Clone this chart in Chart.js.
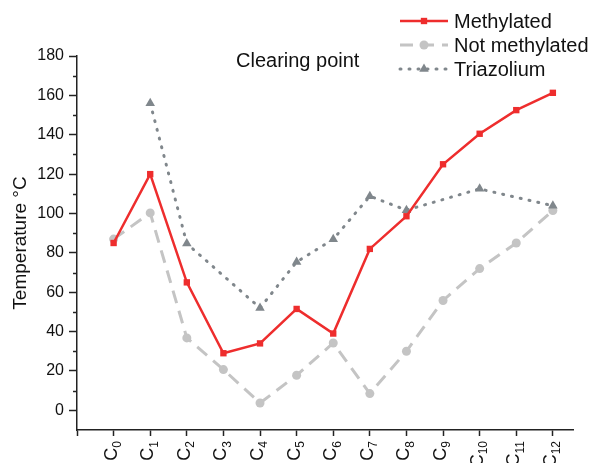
<!DOCTYPE html>
<html>
<head>
<meta charset="utf-8">
<script src="https://cdn.jsdelivr.net/npm/chart.js@4.4.1/dist/chart.umd.min.js"></script>
<style>
  html, body { margin: 0; padding: 0; background: #fff; overflow: hidden; }
  #wrap { position: relative; width: 594px; height: 463px; }
</style>
</head>
<body>
<div id="wrap"><canvas id="clearingChart"></canvas></div>
<script>
// Clearing point temperatures per chain length (C + subscript number)
const categories = ['0', '1', '2', '3', '4', '5', '6', '7', '8', '9', '10', '11', '12'];
const methylated = [85, 120, 65, 29, 34, 51.5, 39, 82, 98.6, 125, 140.5, 152.5, 161.3];
const notMethylated = [87, 100.3, 36.8, 20.7, 3.7, 17.8, 34.2, 8.5, 30, 55.8, 72, 85, 101.5];
const triazolium = [null, 156, 84.7, null, 52, 75.4, 86.9, 108.8, 101.7, null, 112.5, null, 103.9];
const yTicks = [0, 20, 40, 60, 80, 100, 120, 140, 160, 180];
const yMinorTicks = [10, 30, 50, 70, 90, 110, 130, 150, 170];
const xTicks = [-1, 0, 1, 2, 3, 4, 5, 6, 7, 8, 9, 10, 11, 12];

const FONT = '"Liberation Sans", Arial, sans-serif';
const RED = '#ee2d2d';
const LIGHT = '#c4c4c4';
const DARK = '#80878c';

function toPoints(values) {
    return values.map((v, i) => ({ x: i, y: v }));
}

// minor ticks, subscripted x labels, legend and the inner label
const extrasPlugin = {
    id: 'extras',
    afterDraw(chart) {
        const ctx = chart.ctx;
        const x = chart.scales.x;
        const y = chart.scales.y;
        ctx.save();
        ctx.strokeStyle = '#222';
        ctx.lineWidth = 1.5;
        yMinorTicks.forEach(v => {
            const py = Math.round(y.getPixelForValue(v)) + 0.5;
            ctx.beginPath();
            ctx.moveTo(y.right - 4, py);
            ctx.lineTo(y.right, py);
            ctx.stroke();
        });

        // x labels: "C" with a subscript, rotated to read upwards
        ctx.fillStyle = '#111';
        ctx.textBaseline = 'middle';
        categories.forEach((sub, i) => {
            const px = x.getPixelForValue(i);
            ctx.save();
            ctx.translate(px, x.top + 11);
            ctx.rotate(-Math.PI / 2);
            ctx.font = '12px ' + FONT;
            const wSub = ctx.measureText(sub).width;
            ctx.textAlign = 'right';
            ctx.fillText(sub, 0, 4);
            ctx.font = '18px ' + FONT;
            ctx.fillText('C', -wSub, -2);
            ctx.restore();
        });

        ctx.font = '20px ' + FONT;
        ctx.textAlign = 'left';
        ctx.fillText('Clearing point', 236, 61);

        chart.data.datasets.forEach((ds, i) => {
            const rowY = 21 + i * 24;
            ctx.save();
            ctx.strokeStyle = ds.borderColor;
            ctx.lineWidth = ds.borderWidth;
            ctx.lineCap = ds.borderCapStyle || 'butt';
            ctx.setLineDash(ds.borderDash || []);
            ctx.beginPath();
            ctx.moveTo(400, rowY);
            ctx.lineTo(448, rowY);
            ctx.stroke();
            ctx.setLineDash([]);
            ctx.fillStyle = ds.pointBackgroundColor;
            ctx.strokeStyle = ds.pointBackgroundColor;
            Chart.helpers.drawPoint(ctx, {
                pointStyle: ds.pointStyle,
                radius: ds.pointRadius,
                rotation: 0,
                borderWidth: 0
            }, 424, rowY);
            ctx.restore();
            ctx.fillStyle = '#111';
            ctx.fillText(ds.label, 454, rowY + 1);
        });
        ctx.restore();
    }
};

new Chart(document.getElementById('clearingChart'), {
    type: 'line',
    data: {
        datasets: [
            {
                label: 'Methylated',
                data: toPoints(methylated),
                borderColor: RED,
                borderWidth: 2.5,
                pointStyle: 'rect',
                pointRadius: 4.5,
                pointBackgroundColor: RED,
                pointBorderWidth: 0,
                order: 1
            },
            {
                label: 'Not methylated',
                data: toPoints(notMethylated),
                borderColor: LIGHT,
                borderWidth: 3,
                borderDash: [13, 8],
                pointStyle: 'circle',
                pointRadius: 4.5,
                pointBackgroundColor: LIGHT,
                pointBorderWidth: 0,
                order: 3
            },
            {
                label: 'Triazolium',
                data: toPoints(triazolium),
                borderColor: DARK,
                borderWidth: 3,
                borderDash: [1, 8],
                borderCapStyle: 'round',
                spanGaps: true,
                pointStyle: 'triangle',
                pointRadius: 5.5,
                pointBackgroundColor: DARK,
                pointBorderWidth: 0,
                order: 2
            }
        ]
    },
    options: {
        responsive: true,
        maintainAspectRatio: false,
        animation: false,
        layout: { padding: { left: 0, top: 56, right: 21, bottom: 0 } },
        plugins: {
            legend: { display: false },
            tooltip: { enabled: false }
        },
        scales: {
            x: {
                type: 'linear',
                min: -1,
                max: 12.55,
                afterBuildTicks(scale) {
                    scale.ticks = xTicks.map(v => ({ value: v }));
                },
                afterFit(scale) { scale.height = 33; },
                grid: { drawOnChartArea: false, tickLength: 6, tickColor: '#222', tickWidth: 1.5 },
                border: { color: '#222', width: 1.5 },
                ticks: { display: true, callback: () => '' }
            },
            y: {
                min: -10,
                max: 180,
                afterBuildTicks(scale) {
                    scale.ticks = yTicks.map(v => ({ value: v }));
                },
                afterFit(scale) { scale.width = 77; },
                grid: { drawOnChartArea: false, tickLength: 8, tickColor: '#222', tickWidth: 1.5 },
                border: { color: '#222', width: 1.5 },
                ticks: {
                    padding: 5,
                    color: '#111',
                    font: { family: FONT, size: 16 }
                },
                title: {
                    display: true,
                    text: 'Temperature \u00B0C',
                    color: '#111',
                    font: { family: FONT, size: 19 },
                    padding: { top: 9, bottom: 0 }
                }
            }
        }
    },
    plugins: [extrasPlugin]
});
</script>
</body>
</html>
